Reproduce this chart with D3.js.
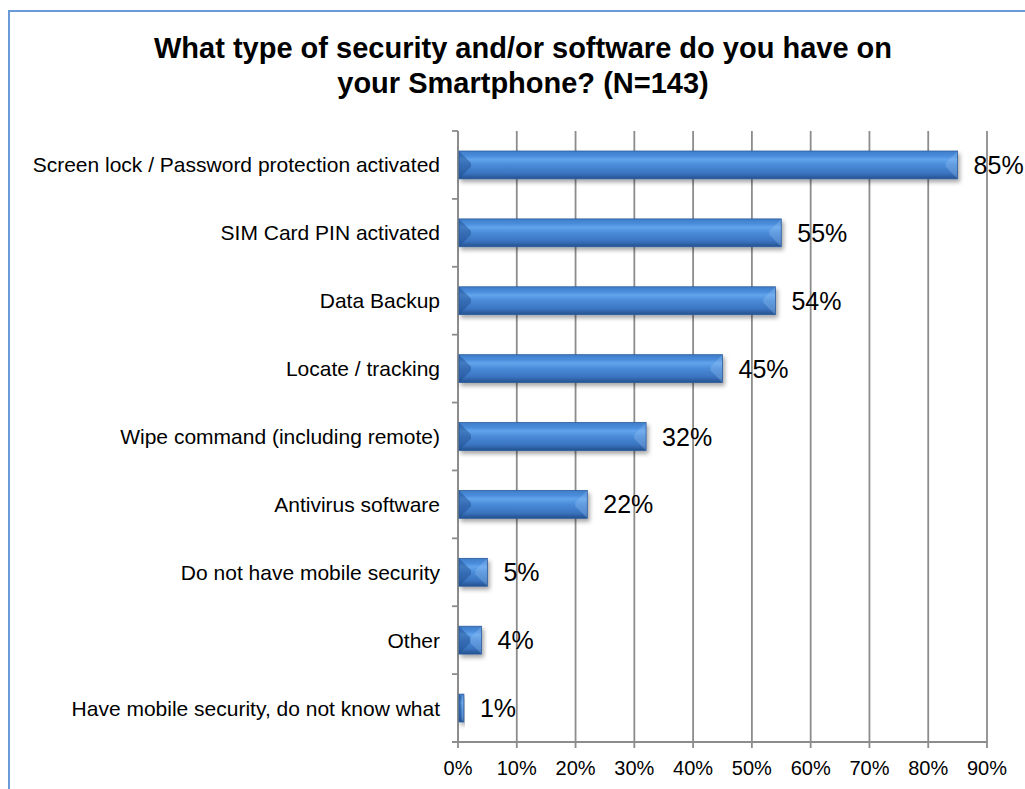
<!DOCTYPE html>
<html>
<head>
<meta charset="utf-8">
<script src="https://cdn.jsdelivr.net/npm/d3@7/dist/d3.min.js"></script>
<style>
  html, body { margin: 0; padding: 0; background: #fff; }
  svg { display: block; font-family: "Liberation Sans", Arial, sans-serif; }
</style>
</head>
<body>
<svg id="chart" width="1025" height="789"></svg>
<script>
// Survey answers, top to bottom
const categories = [
  "Screen lock / Password protection activated",
  "SIM Card PIN activated",
  "Data Backup",
  "Locate / tracking",
  "Wipe command (including remote)",
  "Antivirus software",
  "Do not have mobile security",
  "Other",
  "Have mobile security, do not know what"
];
// Share of respondents (%)
const values = [85, 55, 54, 45, 32, 22, 5, 4, 1];
// Axis ticks (%)
const ticks = [0, 10, 20, 30, 40, 50, 60, 70, 80, 90];
const titleLines = [
  "What type of security and/or software do you have on",
  "your Smartphone? (N=143)"
];

const svg = d3.select("#chart");

// Frame around the chart area
svg.append("rect")
  .attr("x", 9).attr("y", 11)
  .attr("width", 1040).attr("height", 820)
  .attr("fill", "none")
  .attr("stroke", "#6b9bd6")
  .attr("stroke-width", 2);

// Title
svg.append("text")
  .attr("x", 523).attr("y", 58)
  .attr("text-anchor", "middle")
  .attr("font-weight", "bold")
  .attr("font-size", 29)
  .selectAll("tspan").data(titleLines).join("tspan")
  .attr("x", 523)
  .attr("dy", (d, i) => i === 0 ? 0 : 35)
  .text(d => d);

const x = d3.scaleLinear().domain([0, 90]).range([458, 987]);
const y = d3.scaleBand().domain(categories).range([131, 742]).padding(0);

const defs = svg.append("defs");
const grad = defs.append("linearGradient")
  .attr("id", "barFill").attr("x1", 0).attr("y1", 0).attr("x2", 0).attr("y2", 1);
[[0, "#3f7dca"], [0.18, "#4b8ddb"], [0.3, "#62a4ec"], [0.5, "#4a8bd8"],
 [0.8, "#3a74c0"], [1, "#24518e"]].forEach(([o, c]) =>
  grad.append("stop").attr("offset", o).attr("stop-color", c));

const shadow = defs.append("filter").attr("id", "shadow")
  .attr("x", "-20%").attr("y", "-50%").attr("width", "140%").attr("height", "200%");
shadow.append("feDropShadow")
  .attr("dx", 2).attr("dy", 3).attr("stdDeviation", 2.2)
  .attr("flood-color", "#000").attr("flood-opacity", 0.35);

// Vertical gridlines
svg.append("g").selectAll("line").data(ticks).join("line")
  .attr("x1", d => x(d)).attr("x2", d => x(d))
  .attr("y1", 131).attr("y2", 748)
  .attr("stroke", "#8c8c8c").attr("stroke-width", 1.8);

// Category axis line and ticks at band boundaries
svg.append("line")
  .attr("x1", x(0)).attr("x2", x(0)).attr("y1", 131).attr("y2", 742)
  .attr("stroke", "#8c8c8c").attr("stroke-width", 1.8);
const bounds = categories.map(c => y(c)).concat([y.range()[1]]);
svg.append("g").selectAll("line").data(bounds).join("line")
  .attr("x1", x(0) - 6).attr("x2", x(0))
  .attr("y1", d => d).attr("y2", d => d)
  .attr("stroke", "#8c8c8c").attr("stroke-width", 1.8);

// Value axis line
svg.append("line")
  .attr("x1", x(0) - 6).attr("x2", x(90)).attr("y1", 742).attr("y2", 742)
  .attr("stroke", "#8c8c8c").attr("stroke-width", 1.8);

// Value axis labels
svg.append("g").selectAll("text").data(ticks).join("text")
  .attr("x", d => x(d)).attr("y", 775)
  .attr("text-anchor", "middle")
  .attr("font-size", 20)
  .attr("fill", "#000")
  .text(d => d + "%");

// Category labels
svg.append("g").selectAll("text").data(categories).join("text")
  .attr("x", 440)
  .attr("y", d => y(d) + y.bandwidth() / 2 + 7.5)
  .attr("text-anchor", "end")
  .attr("font-size", 21)
  .attr("fill", "#000")
  .text(d => d);

// Bevelled bars
const barH = y.bandwidth() * 0.41;
const bars = svg.append("g").selectAll("g").data(categories).join("g")
  .attr("filter", "url(#shadow)");
bars.each(function (c, i) {
  const g = d3.select(this);
  const x0 = x(0) + 1, w = x(values[i]) - x(0) - 1;
  const y0 = y(c) + (y.bandwidth() - barH) / 2, h = barH;
  const b = Math.min(12, w / 2, h / 2);
  g.append("rect").attr("x", x0).attr("y", y0).attr("width", w).attr("height", h)
    .attr("fill", "url(#barFill)");
  // left face
  g.append("polygon")
    .attr("points", [[x0, y0], [x0 + b, y0 + b], [x0 + b, y0 + h - b], [x0, y0 + h]].join(" "))
    .attr("fill", "#1d4a8a").attr("fill-opacity", 0.45);
  // right face
  g.append("polygon")
    .attr("points", [[x0 + w, y0], [x0 + w - b, y0 + b], [x0 + w - b, y0 + h - b], [x0 + w, y0 + h]].join(" "))
    .attr("fill", "#9cc8f5").attr("fill-opacity", 0.3);
  // rim
  g.append("rect").attr("x", x0).attr("y", y0).attr("width", w).attr("height", h)
    .attr("fill", "none").attr("stroke", "#2c5c9c").attr("stroke-width", 0.8);
});

// Value labels
svg.append("g").selectAll("text").data(categories).join("text")
  .attr("x", (d, i) => x(values[i]) + 16)
  .attr("y", d => y(d) + y.bandwidth() / 2 + 9)
  .attr("font-size", 25)
  .attr("fill", "#000")
  .text((d, i) => values[i] + "%");
</script>
</body>
</html>
